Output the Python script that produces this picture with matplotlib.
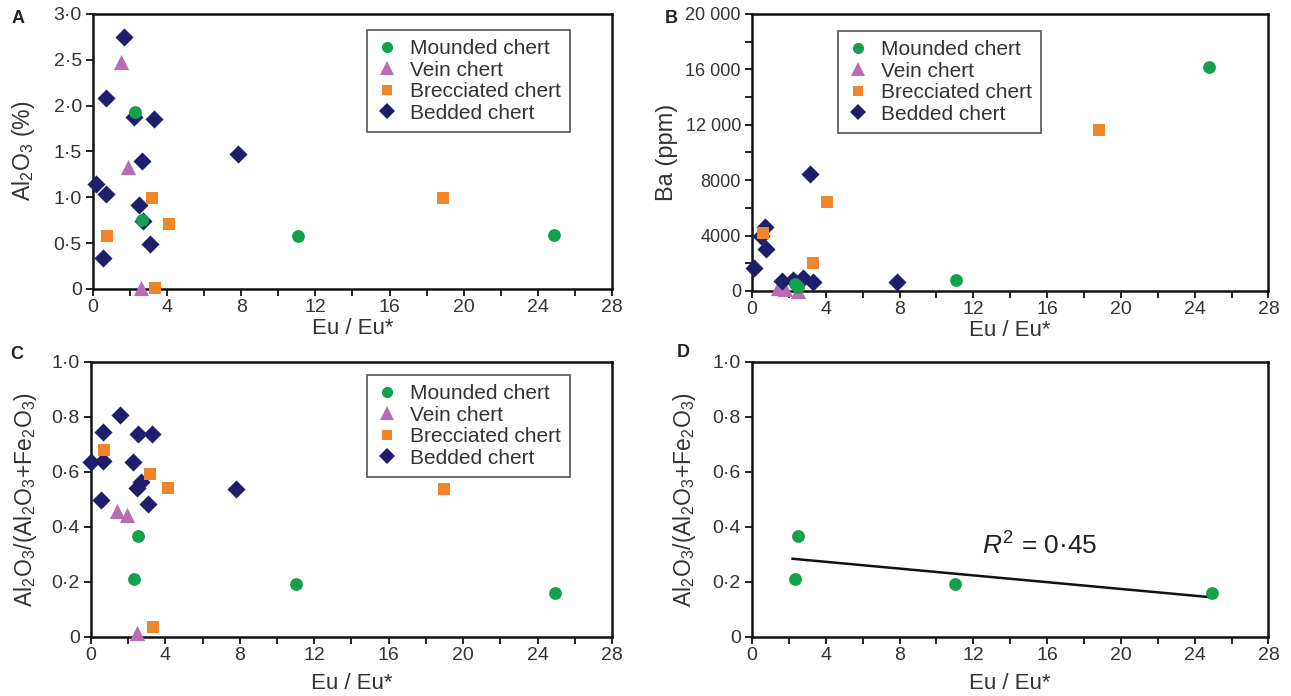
import matplotlib
matplotlib.use("Agg")
import matplotlib.pyplot as plt
from matplotlib.ticker import FixedLocator, FixedFormatter, MultipleLocator
from matplotlib.lines import Line2D

plt.rcParams['font.family'] = ['Liberation Sans', 'DejaVu Sans']
plt.rcParams['mathtext.fontset'] = 'custom'
plt.rcParams['mathtext.rm'] = 'Liberation Sans'
plt.rcParams['mathtext.it'] = 'Liberation Sans:italic'

# ---- data ----
# panel A: Eu/Eu* vs Al2O3 (%)
mound_A_x = [2.29, 2.67, 11.05, 24.9]
mound_A_y = [1.93, 0.75, 0.58, 0.59]
vein_A_x = [1.54, 1.89, 2.6]
vein_A_y = [2.48, 1.33, 0.01]
brec_A_x = [0.77, 3.17, 4.11, 3.35, 18.9]
brec_A_y = [0.58, 0.99, 0.71, 0.01, 0.99]
bed_A_x = [1.65, 0.70, 2.24, 3.31, 7.82, 2.62, 0.15, 0.73, 2.46, 2.71, 3.08, 0.52]
bed_A_y = [2.75, 2.08, 1.87, 1.85, 1.47, 1.39, 1.14, 1.04, 0.91, 0.74, 0.49, 0.34]

# panel B: Eu/Eu* vs Ba (ppm)
mound_B_x = [2.32, 2.5, 11.05, 24.79]
mound_B_y = [505, 310, 796, 16190]
vein_B_x = [1.41, 1.8, 2.5]
vein_B_y = [200, 150, 0]
brec_B_x = [0.6, 3.31, 4.04, 18.84]
brec_B_y = [4170, 2000, 6420, 11600]
bed_B_x = [3.12, 0.73, 0.5, 0.74, 0.12, 1.65, 2.22, 2.77, 3.31, 7.88]
bed_B_y = [8440, 4600, 4000, 3010, 1640, 750, 790, 915, 675, 630]

# panel C: Eu/Eu* vs Al2O3/(Al2O3+Fe2O3)
mound_C_x = [2.51, 2.33, 11.0, 24.93]
mound_C_y = [0.366, 0.212, 0.193, 0.161]
vein_C_x = [1.40, 1.91, 2.46]
vein_C_y = [0.457, 0.442, 0.015]
brec_C_x = [0.69, 3.15, 4.13, 18.95, 3.33]
brec_C_y = [0.681, 0.591, 0.542, 0.537, 0.036]
bed_C_x = [1.55, 0.67, 2.55, 3.28, 0.0, 0.67, 2.27, 2.69, 2.46, 7.79, 0.51, 3.06]
bed_C_y = [0.808, 0.745, 0.736, 0.736, 0.635, 0.641, 0.635, 0.564, 0.542, 0.538, 0.496, 0.484]

# panel D: mounded chert only, with trend line
trend_D_x = [2.2, 24.9]
trend_D_y = [0.284, 0.144]
r2_text = r'$R^2$ = 0·45'

x_ticks = [0, 4, 8, 12, 16, 20, 24, 28]
x_ticklabels = ['0', '4', '8', '12', '16', '20', '24', '28']
yA_ticks = [0, 0.5, 1.0, 1.5, 2.0, 2.5, 3.0]
yA_ticklabels = ['0', '0·5', '1·0', '1·5', '2·0', '2·5', '3·0']
yB_ticks = [0, 4000, 8000, 12000, 16000, 20000]
yB_ticklabels = ['0', '4000', '8000', '12 000', '16 000', '20 000']
yC_ticks = [0, 0.2, 0.4, 0.6, 0.8, 1.0]
yC_ticklabels = ['0', '0·2', '0·4', '0·6', '0·8', '1·0']

labels = ['Mounded chert', 'Vein chert', 'Brecciated chert', 'Bedded chert']

# ---- styles ----
c_mound = '#14a04c'
c_vein = '#b86cb4'
c_brec = '#f0852a'
c_bed = '#1e1e6c'
txt = '#333333'

fig = plt.figure(figsize=(12.91, 6.96), dpi=100)
axA = fig.add_axes([0.072, 0.585, 0.402, 0.395])
axB = fig.add_axes([0.5825, 0.582, 0.400, 0.398])
axC = fig.add_axes([0.0705, 0.085, 0.4035, 0.395])
axD = fig.add_axes([0.5825, 0.085, 0.400, 0.395])


def draw_groups(ax, mx, my, vx, vy, bx, by, dx, dy):
    ax.scatter(vx, vy, marker='^', s=120, color=c_vein, linewidths=0, clip_on=False, zorder=3)
    ax.scatter(dx, dy, marker='D', s=85, color=c_bed, linewidths=0, clip_on=False, zorder=4)
    ax.scatter(bx, by, marker='s', s=70, color=c_brec, linewidths=0, clip_on=False, zorder=5)
    ax.scatter(mx, my, marker='o', s=85, color=c_mound, linewidths=0, clip_on=False, zorder=6)


def style_axes(ax, yticks, yticklabels, ymax, yminor=None, ylabelsize=14):
    ax.set_xlim(0, 28)
    ax.set_ylim(0, ymax)
    ax.xaxis.set_major_locator(FixedLocator(x_ticks))
    ax.xaxis.set_major_formatter(FixedFormatter(x_ticklabels))
    ax.xaxis.set_minor_locator(MultipleLocator(2))
    ax.yaxis.set_major_locator(FixedLocator(yticks))
    ax.yaxis.set_major_formatter(FixedFormatter(yticklabels))
    if yminor:
        ax.yaxis.set_minor_locator(MultipleLocator(yminor))
    for sp in ax.spines.values():
        sp.set_linewidth(1.8)
        sp.set_color('#111111')
    ax.tick_params(which='both', direction='out', length=5, width=1.3,
                   labelsize=14, colors='#111111', labelcolor=txt)
    ax.tick_params(axis='x', pad=2)
    ax.tick_params(axis='y', pad=3, labelsize=ylabelsize)
    ax.set_xlabel('Eu / Eu*', fontsize=16, color=txt)


def add_legend(ax, anchor):
    handles = [
        Line2D([], [], ls='none', marker='o', ms=8, color=c_mound, mew=0),
        Line2D([], [], ls='none', marker='^', ms=10, color=c_vein, mew=0),
        Line2D([], [], ls='none', marker='s', ms=7.5, color=c_brec, mew=0),
        Line2D([], [], ls='none', marker='D', ms=8, color=c_bed, mew=0),
    ]
    leg = ax.legend(handles, labels, loc='upper left', bbox_to_anchor=anchor,
                    fontsize=15, frameon=True, fancybox=False, framealpha=1,
                    edgecolor='#555555', handlelength=1.0, handletextpad=0.6,
                    labelspacing=0.12, borderpad=0.45, borderaxespad=0)
    leg.get_frame().set_linewidth(1.2)
    for t in leg.get_texts():
        t.set_color(txt)


draw_groups(axA, mound_A_x, mound_A_y, vein_A_x, vein_A_y, brec_A_x, brec_A_y, bed_A_x, bed_A_y)
style_axes(axA, yA_ticks, yA_ticklabels, 3.0)
axA.set_ylabel('Al$_2$O$_3$ (%)', fontsize=16.5, color=txt)
axA.yaxis.set_label_coords(-0.108, 0.5)
axA.xaxis.set_label_coords(0.5, -0.105)
add_legend(axA, (0.528, 0.942))

draw_groups(axB, mound_B_x, mound_B_y, vein_B_x, vein_B_y, brec_B_x, brec_B_y, bed_B_x, bed_B_y)
style_axes(axB, yB_ticks, yB_ticklabels, 20000, yminor=2000, ylabelsize=13)
axB.set_ylabel('Ba (ppm)', fontsize=17, color=txt)
axB.yaxis.set_label_coords(-0.143, 0.5)
axB.xaxis.set_label_coords(0.5, -0.105)
add_legend(axB, (0.167, 0.939))

draw_groups(axC, mound_C_x, mound_C_y, vein_C_x, vein_C_y, brec_C_x, brec_C_y, bed_C_x, bed_C_y)
style_axes(axC, yC_ticks, yC_ticklabels, 1.0)
axC.set_ylabel('Al$_2$O$_3$/(Al$_2$O$_3$+Fe$_2$O$_3$)', fontsize=16.5, color=txt)
axC.yaxis.set_label_coords(-0.1, 0.5)
axC.xaxis.set_label_coords(0.5, -0.13)
add_legend(axC, (0.53, 0.953))

axD.scatter(mound_C_x, mound_C_y, marker='o', s=85, color=c_mound, linewidths=0, clip_on=False, zorder=6)
axD.plot(trend_D_x, trend_D_y, color='#111111', lw=1.8, zorder=5)
style_axes(axD, yC_ticks, yC_ticklabels, 1.0)
axD.set_ylabel('Al$_2$O$_3$/(Al$_2$O$_3$+Fe$_2$O$_3$)', fontsize=16.5, color=txt)
axD.yaxis.set_label_coords(-0.104, 0.5)
axD.xaxis.set_label_coords(0.5, -0.13)
axD.text(15.6, 0.33, r2_text, fontsize=19, color='#222222', ha='center', va='center')

for lab, x, y in [('A', 0.014, 0.974), ('B', 0.52, 0.974), ('C', 0.013, 0.49), ('D', 0.529, 0.494)]:
    fig.text(x, y, lab, fontsize=13, fontweight='bold', ha='center', va='center', color='#222222')

fig.savefig('out.png', dpi=100)
